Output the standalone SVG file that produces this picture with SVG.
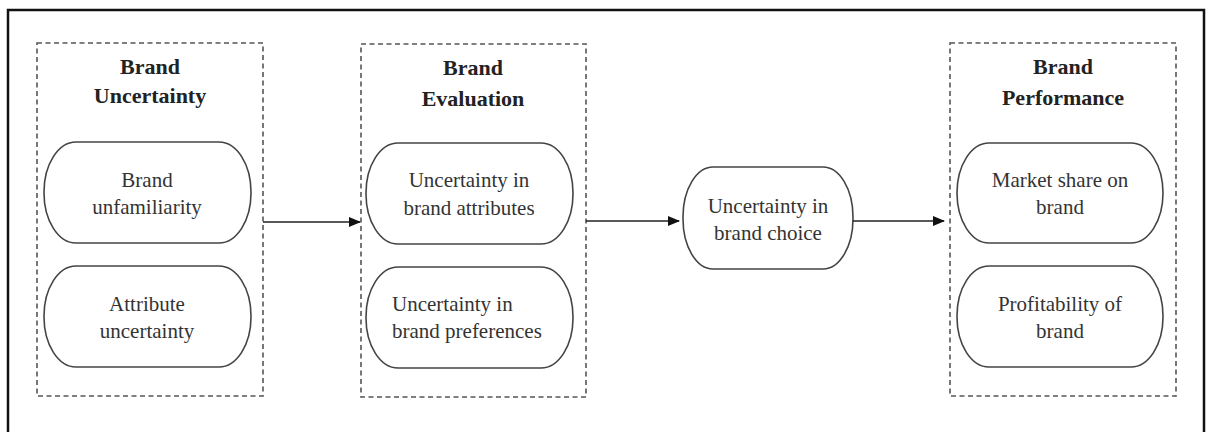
<svg xmlns="http://www.w3.org/2000/svg" width="1208" height="432" viewBox="0 0 1208 432">
<style>
.frame{fill:none;stroke:#111;stroke-width:2.5}
.group{fill:none;stroke:#555;stroke-width:1.6;stroke-dasharray:5 3.5}
.pill{fill:#fff;stroke:#444;stroke-width:1.6}
.title{font-family:"Liberation Serif",serif;font-weight:bold;font-size:22px;fill:#222;text-anchor:middle}
.lbl{font-family:"Liberation Serif",serif;font-size:21px;fill:#333;text-anchor:middle}
.lbll{font-family:"Liberation Serif",serif;font-size:21px;fill:#333}
.conn{stroke:#222;stroke-width:1.6;fill:none}
</style>
<defs>
<marker id="ah" markerWidth="12" markerHeight="12" refX="11" refY="6" orient="auto" markerUnits="userSpaceOnUse">
<path d="M0,1 L12,6 L0,11 Z" fill="#111"/>
</marker>
</defs>
<rect x="0" y="0" width="1208" height="432" fill="#fff"/>
<rect class="frame" x="8" y="10" width="1196" height="440"/>

<g id="brand-uncertainty">
<rect class="group" x="37" y="43" width="226" height="353"/>
<text class="title" x="150" y="74">Brand</text>
<text class="title" x="150" y="103">Uncertainty</text>
</g>
<g id="brand-unfamiliarity">
<rect class="pill" x="44" y="142" width="207" height="101" rx="32" ry="50"/>
<text class="lbl" x="147" y="187">Brand</text>
<text class="lbl" x="147" y="214">unfamiliarity</text>
</g>
<g id="attribute-uncertainty">
<rect class="pill" x="44" y="266" width="207" height="101" rx="32" ry="50"/>
<text class="lbl" x="147" y="311">Attribute</text>
<text class="lbl" x="147" y="338">uncertainty</text>
</g>

<g id="brand-evaluation">
<rect class="group" x="361" y="44" width="225" height="353"/>
<text class="title" x="473" y="75">Brand</text>
<text class="title" x="473" y="106">Evaluation</text>
</g>
<g id="uncertainty-attributes">
<rect class="pill" x="366" y="143" width="207" height="101" rx="32" ry="50"/>
<text class="lbl" x="469" y="187">Uncertainty in</text>
<text class="lbl" x="469" y="215">brand attributes</text>
</g>
<g id="uncertainty-preferences">
<rect class="pill" x="366" y="267" width="207" height="101" rx="32" ry="50"/>
<text class="lbll" x="392" y="311">Uncertainty in</text>
<text class="lbll" x="392" y="338">brand preferences</text>
</g>

<g id="uncertainty-choice">
<rect class="pill" x="683" y="167" width="170" height="102" rx="30" ry="50"/>
<text class="lbl" x="768" y="213">Uncertainty in</text>
<text class="lbl" x="768" y="240">brand choice</text>
</g>

<g id="brand-performance">
<rect class="group" x="950" y="43" width="226" height="353"/>
<text class="title" x="1063" y="74">Brand</text>
<text class="title" x="1063" y="105">Performance</text>
</g>
<g id="market-share">
<rect class="pill" x="957" y="143" width="206" height="100" rx="32" ry="50"/>
<text class="lbl" x="1060" y="187">Market share on</text>
<text class="lbl" x="1060" y="214">brand</text>
</g>
<g id="profitability">
<rect class="pill" x="957" y="266" width="206" height="101" rx="32" ry="50"/>
<text class="lbl" x="1060" y="311">Profitability of</text>
<text class="lbl" x="1060" y="338">brand</text>
</g>

<g id="connectors">
<line class="conn" x1="263" y1="222" x2="360" y2="222" marker-end="url(#ah)"/>
<line class="conn" x1="586" y1="221" x2="679" y2="221" marker-end="url(#ah)"/>
<line class="conn" x1="853" y1="221" x2="944" y2="221" marker-end="url(#ah)"/>
</g>
</svg>
